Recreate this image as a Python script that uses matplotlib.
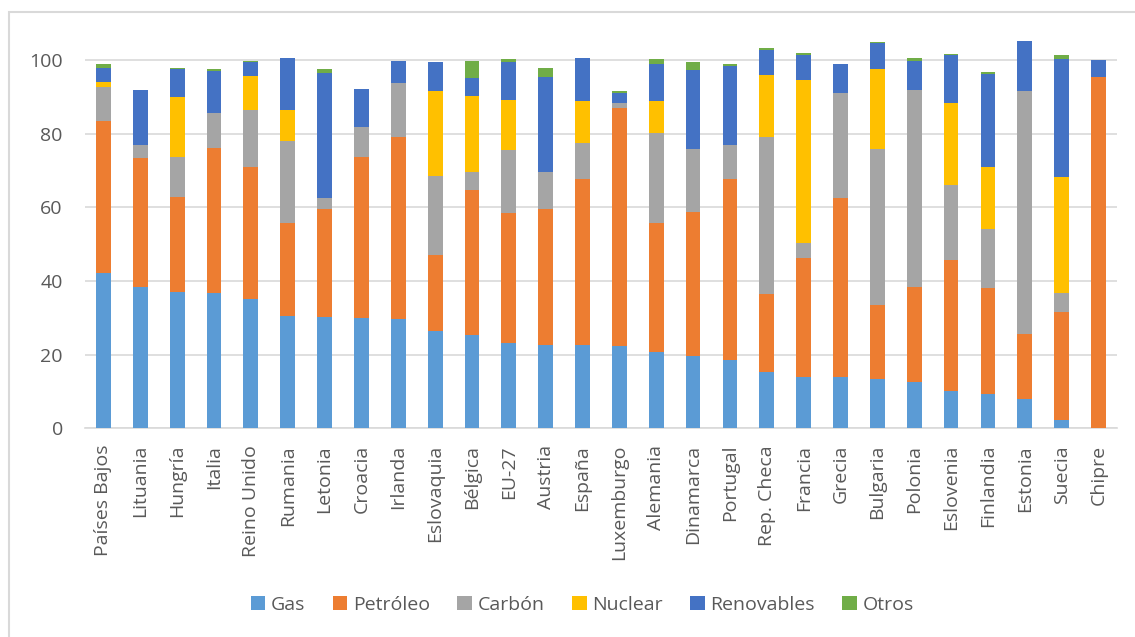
import numpy as np
import matplotlib
matplotlib.use("Agg")
import matplotlib.pyplot as plt
from matplotlib.patches import Patch, Rectangle

plt.rcParams['font.family'] = ['Open Sans', 'DejaVu Sans']

paises = ['Países Bajos', 'Lituania', 'Hungría', 'Italia', 'Reino Unido',
          'Rumania', 'Letonia', 'Croacia', 'Irlanda', 'Eslovaquia', 'Bélgica',
          'EU-27', 'Austria', 'España', 'Luxemburgo', 'Alemania', 'Dinamarca',
          'Portugal', 'Rep. Checa', 'Francia', 'Grecia', 'Bulgaria', 'Polonia',
          'Eslovenia', 'Finlandia', 'Estonia', 'Suecia', 'Chipre']

# % del consumo de energía primaria por fuente
gas = [42.1, 38.3, 36.9, 36.7, 35.2, 30.4, 30.3, 30.0, 29.6, 26.4, 25.3,
       23.2, 22.6, 22.5, 22.3, 20.6, 19.5, 18.5, 15.4, 14.0, 13.9, 13.4,
       12.5, 10.1, 9.2, 8.0, 2.3, 0.2]
petroleo = [41.3, 35.0, 25.9, 39.5, 35.8, 25.3, 29.3, 43.6, 49.4, 20.7, 39.3,
            35.3, 36.8, 45.1, 64.6, 35.1, 39.1, 49.1, 21.1, 32.3, 48.6, 20.0,
            25.8, 35.7, 28.8, 17.5, 29.4, 95.1]
carbon = [9.3, 3.6, 10.9, 9.4, 15.5, 22.4, 2.9, 8.2, 14.8, 21.3, 4.9,
          16.9, 10.2, 9.7, 1.3, 24.4, 17.1, 9.3, 42.5, 4.0, 28.4, 42.3,
          53.6, 20.2, 16.0, 66.1, 5.0, 0.0]
nuclear = [1.3, 0.0, 16.2, 0.0, 9.2, 8.3, 0.0, 0.0, 0.0, 23.1, 20.8,
           13.7, 0.0, 11.6, 0.0, 8.8, 0.0, 0.0, 17.0, 44.1, 0.0, 21.9,
           0.0, 22.2, 16.8, 0.0, 31.6, 0.0]
renovables = [3.9, 15.0, 7.5, 11.3, 3.8, 14.0, 33.9, 10.3, 5.8, 7.8, 4.7,
              10.2, 25.7, 11.5, 2.8, 10.0, 21.5, 21.5, 6.8, 7.0, 7.9, 6.9,
              7.7, 13.0, 25.4, 13.4, 31.8, 4.7]
otros = [1.0, 0.0, 0.4, 0.7, 0.3, 0.2, 1.0, 0.0, 0.2, 0.2, 4.7,
         0.8, 2.6, 0.0, 0.6, 1.3, 2.2, 0.5, 0.5, 0.5, 0.0, 0.3,
         0.8, 0.3, 0.5, 0.0, 1.1, 0.0]

series = [('Gas', gas, '#5B9BD5'),
          ('Petróleo', petroleo, '#ED7D31'),
          ('Carbón', carbon, '#A5A5A5'),
          ('Nuclear', nuclear, '#FFC000'),
          ('Renovables', renovables, '#4472C4'),
          ('Otros', otros, '#70AD47')]

texto = '#595959'
rejilla = '#D9D9D9'

fig = plt.figure(figsize=(11.35, 6.37), dpi=100)
ax = fig.add_axes([0.0749, 0.3276, 0.9092, 0.6143])

x = np.arange(len(paises))
base = np.zeros(len(paises))
for nombre, valores, color in series:
    ax.bar(x, valores, width=0.4, bottom=base, color=color, zorder=3)
    base += np.array(valores)

ax.set_xlim(-0.5, len(paises) - 0.5)
ax.set_ylim(0, 106.2)
ax.set_yticks([0, 20, 40, 60, 80, 100])
ax.set_xticks(x)
ax.set_xticklabels(paises, rotation=90, ha='center', va='top')
ax.tick_params(axis='both', length=0, labelsize=14, colors=texto)
ax.tick_params(axis='y', pad=16)
ax.tick_params(axis='x', pad=12)

ax.grid(axis='y', color=rejilla, linewidth=1.2, zorder=0)
for s in ['top', 'right', 'left']:
    ax.spines[s].set_visible(False)
ax.spines['bottom'].set_color(rejilla)
ax.spines['bottom'].set_linewidth(1.2)

handles = [Patch(facecolor=c, label=n) for n, _, c in series]
leg = fig.legend(handles=handles, loc='center', bbox_to_anchor=(0.513, 0.050),
                 ncol=6, frameon=False, fontsize=14, handlelength=0.75,
                 handleheight=0.75, handletextpad=0.3, columnspacing=1.4)
for t in leg.get_texts():
    t.set_color(texto)

# borde del área del gráfico
fig.patches.append(Rectangle((9 / 1135, -0.1), 1.2, 1.1 - 12 / 637,
                             transform=fig.transFigure, fill=False,
                             edgecolor=rejilla, linewidth=1.5))

fig.savefig('out.png', dpi=100)
